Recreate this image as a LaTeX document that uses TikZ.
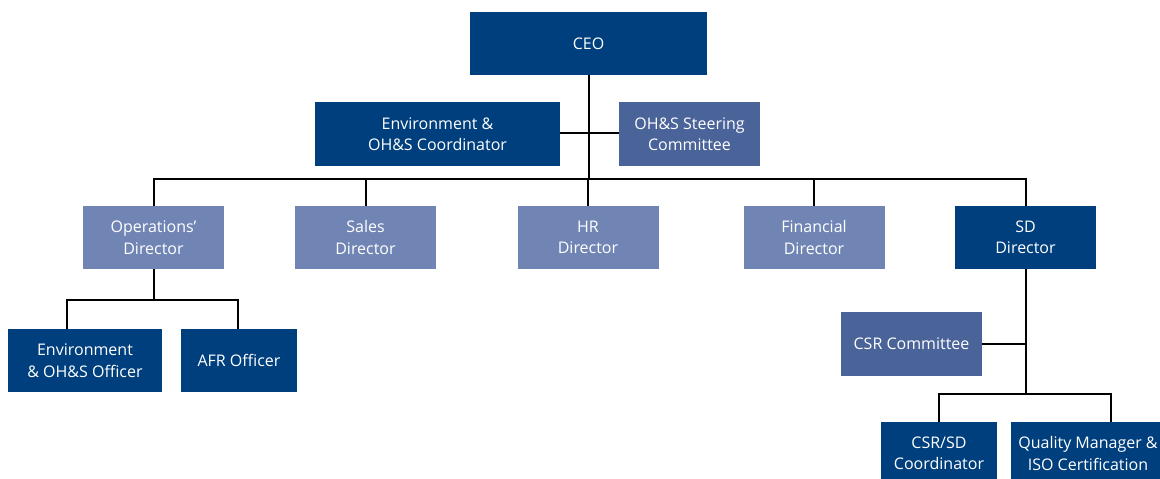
\documentclass[tikz,border=0pt]{standalone}
\usepackage{fontspec}
\setmainfont{Open Sans}
\definecolor{dkblue}{RGB}{0,63,125}
\definecolor{mdblue}{RGB}{74,99,153}
\definecolor{ltblue}{RGB}{113,133,181}
\begin{document}
\begin{tikzpicture}[x=1pt,y=-1pt,
  box/.style={draw=none,text=white,align=center,inner sep=0pt,
    font=\fontsize{16}{21.5}\selectfont,minimum height=63},
  dark/.style={box,fill=dkblue},
  mid/.style={box,fill=mdblue},
  light/.style={box,fill=ltblue},
  conn/.style={line width=2pt,black}]
\useasboundingbox (0,0) rectangle (1160,479);
\begin{scope}
\clip (0,0) rectangle (1160,479);
% nodes
\node[dark,minimum width=237] (ceo) at (588.5,43.5) {CEO};
\node[dark,minimum width=245,minimum height=64] (coord) at (437.5,134) {Environment \&\\OH\&S Coordinator};
\node[mid,minimum width=141,minimum height=64] (steer) at (689.5,134) {OH\&S Steering\\Committee};
\node[light,minimum width=141] (ops) at (153.5,237.5) {Operations’\\Director};
\node[light,minimum width=141] (sales) at (365.5,237.5) {Sales\\Director};
\node[light,minimum width=141] (hr) at (588,237.5) {HR\\Director};
\node[light,minimum width=141] (fin) at (814,237.5) {Financial\\Director};
\node[dark,minimum width=141] (sd) at (1025.5,237.5) {SD\\Director};
\node[dark,minimum width=154] (envoff) at (85,360.5) {Environment\\\& OH\&S Officer};
\node[dark,minimum width=116] (afr) at (239,360.5) {AFR Officer};
\node[mid,minimum width=141,minimum height=64] (csrc) at (911.5,344) {CSR Committee};
\node[dark,minimum width=116] (csrsd) at (939,453.5) {CSR/SD\\Coordinator};
\node[dark,minimum width=154] (qual) at (1088,453.5) {Quality Manager \&\\ISO Certification};
% junctions
\coordinate (bus) at (588.5,178.5);
\coordinate (opsbus) at (153.5,300);
\coordinate (csrj) at (1025.5,343.5);
\coordinate (sdbus) at (1025.5,394);
% connectors
\draw[conn] (ceo.south) -- (bus);
\draw[conn] (coord.east |- 0,133) -- (steer.west |- 0,133);
\draw[conn] (ops.north) |- (bus) -| (sd.north);
\draw[conn] (sales.north) -- (sales.north |- bus);
\draw[conn] (hr.north) -- (hr.north |- bus);
\draw[conn] (fin.north) -- (fin.north |- bus);
\draw[conn] (ops.south) -- (opsbus);
\draw[conn] ([xshift=-18pt]envoff.north) |- (opsbus) -| ([xshift=-1pt]afr.north);
\draw[conn] (sd.south) -- (sdbus);
\draw[conn] (csrc.east |- csrj) -- (csrj);
\draw[conn] (csrsd.north) |- (sdbus) -| ([xshift=23pt]qual.north);
\end{scope}
\end{tikzpicture}
\end{document}
